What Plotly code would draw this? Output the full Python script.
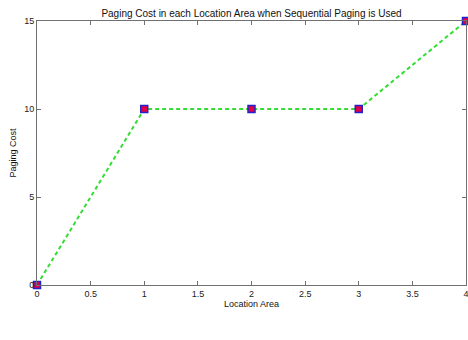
import plotly.graph_objects as go

location_area = [0, 1, 2, 3, 4]
paging_cost = [0, 10, 10, 10, 15]
x_ticks = [0, 0.5, 1, 1.5, 2, 2.5, 3, 3.5, 4]
y_ticks = [0, 5, 10, 15]

fig = go.Figure()
fig.add_trace(go.Scatter(
    x=location_area, y=paging_cost, mode="lines+markers",
    line=dict(color="#33dd33", width=2, dash="4px,3px"),
    marker=dict(symbol="square", size=7, color="#e0004a",
                line=dict(color="#2222cc", width=1.5)),
    cliponaxis=False, showlegend=False,
))

axis_common = dict(
    showline=True, linecolor="#707070", linewidth=1, mirror="ticks",
    ticks="inside", ticklen=4, tickcolor="#707070", showgrid=False,
    zeroline=False, tickfont=dict(family="Liberation Sans", size=9, color="#222"),
    automargin=False, ticklabeloverflow="allow",
)
fig.update_xaxes(range=[0, 4], tickvals=x_ticks,
                 ticktext=[f"{v:g}" for v in x_ticks],
                 title=dict(text="Location Area", standoff=2,
                            font=dict(family="Liberation Sans", size=9, color="#111")),
                 **axis_common)
fig.update_yaxes(range=[0, 15], tickvals=y_ticks,
                 title=dict(text="Paging Cost", standoff=6,
                            font=dict(family="Liberation Sans", size=9, color="#111")),
                 **axis_common)
fig.update_layout(
    width=468, height=340,
    margin=dict(l=37, r=2, t=21, b=55),
    paper_bgcolor="white", plot_bgcolor="white",
    title=dict(text="Paging Cost in each Location Area when Sequential Paging is Used",
               x=0.5, xref="paper", xanchor="center", y=1 - 13 / 340, yanchor="middle",
               font=dict(family="Liberation Sans", size=10, color="#111")),
)
fig.write_html("out.html", config={"displayModeBar": False},
               post_script="document.body.style.margin='0';document.body.style.overflow='hidden';")
